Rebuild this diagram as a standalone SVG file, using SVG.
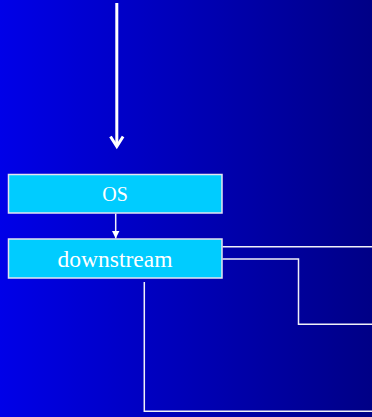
<svg xmlns="http://www.w3.org/2000/svg" width="372" height="417" viewBox="0 0 372 417">
  <defs>
    <linearGradient id="bg" x1="0" y1="0" x2="1" y2="0">
      <stop offset="0" stop-color="#0000E8"/>
      <stop offset="1" stop-color="#000086"/>
    </linearGradient>
    <marker id="tip" viewBox="0 0 8 8" refX="8" refY="4" markerWidth="8" markerHeight="8" markerUnits="userSpaceOnUse" orient="auto">
      <path d="M0,0 L8,4 L0,8 Z" fill="#FFFFFF"/>
    </marker>
  </defs>
  <style>
    .box { fill: #00CCFF; stroke: #E4E4F0; stroke-width: 1.5; }
    .label { font-family: "Liberation Serif", "Times New Roman", serif; fill: #FFFFFF; text-anchor: middle; }
    .wire { fill: none; stroke: #F0F0F8; stroke-width: 1.5; }
  </style>

  <rect x="0" y="0" width="372" height="417" fill="url(#bg)"/>

  <g id="connectors">
    <!-- incoming flow into OS -->
    <line x1="116.8" y1="3" x2="116.8" y2="146" stroke="#FFFFFF" stroke-width="3"/>
    <path d="M110.5,136.5 L116.8,146.5 L123.1,136.5" fill="none" stroke="#FFFFFF" stroke-width="3" stroke-linejoin="miter"/>
    <!-- OS to downstream -->
    <line class="wire" x1="115.7" y1="213.5" x2="115.7" y2="238.5" stroke-width="1.2" marker-end="url(#tip)"/>
    <!-- outgoing branches, running off the right edge -->
    <polyline class="wire" points="222.5,246.7 379.5,246.7" marker-end="url(#tip)"/>
    <polyline class="wire" points="222.5,259 298.5,259 298.5,324.3 379.5,324.3" stroke="#D8D8E8" marker-end="url(#tip)"/>
    <polyline class="wire" points="144.3,282 144.3,411.3 379.5,411.3" marker-end="url(#tip)"/>
  </g>

  <g id="os">
    <rect class="box" x="8.5" y="174.5" width="213.5" height="38.5"/>
    <text class="label" x="115" y="200.8" font-size="20">OS</text>
  </g>

  <g id="downstream">
    <rect class="box" x="8.5" y="239" width="213.5" height="39"/>
    <text class="label" x="115" y="267.3" font-size="23.5">downstream</text>
  </g>
</svg>
